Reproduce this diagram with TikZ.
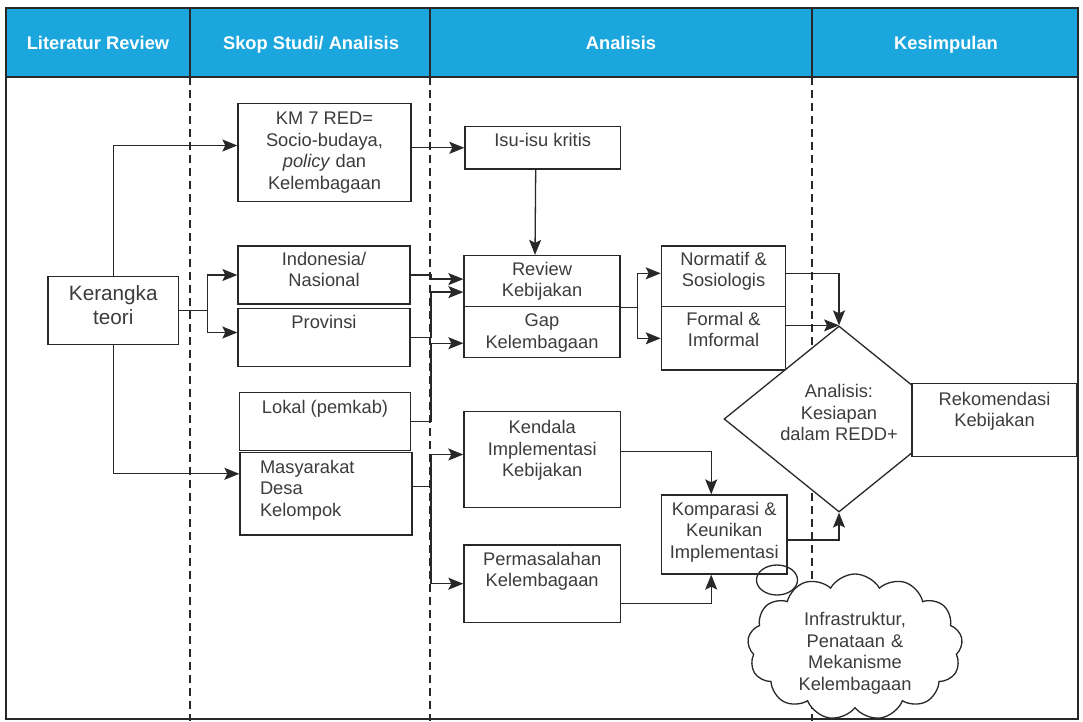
\documentclass[tikz,border=0pt]{standalone}
\usepackage{fontspec}
\setmainfont{Liberation Sans}
\usetikzlibrary{arrows.meta,shapes.geometric,shapes.symbols}

\definecolor{headblue}{RGB}{27,166,222}
\definecolor{linegray}{RGB}{40,40,40}
\definecolor{textgray}{RGB}{60,60,60}

\begin{document}
\begin{tikzpicture}[x=1pt,y=-1pt,
    box/.style={rectangle,draw=linegray,fill=white,line width=1.3pt,
        inner sep=0pt,align=center,text=textgray,
        font=\fontsize{18.3}{21.5}\selectfont},
    tshift/.style={text height=13pt,text depth=#1},
    tlast/.style={text height=#1,text depth=0pt},
    head/.style={text=white,text height=13pt,text depth=0pt,
        font=\fontsize{18.3}{22}\selectfont\bfseries},
    divider/.style={draw=linegray,line width=2pt,dash pattern=on 8pt off 5pt},
    conn/.style={draw=linegray,line width=1.3pt},
    arr/.style={conn,-{Stealth[length=15pt,width=12pt,inset=3pt]}}
]
\useasboundingbox (0,0) rectangle (1083,721);

% lanes
\foreach \lx in {190,430,812}
    \draw[divider] (\lx,77) -- (\lx,721);
\draw[draw=linegray,line width=1.5pt] (6,8) rectangle (1078,719);
\draw[draw=linegray,line width=1.5pt,fill=headblue] (6,8) rectangle (1078,77);
\foreach \lx in {190,430,812}
    \draw[draw=linegray,line width=1.5pt] (\lx,8) -- (\lx,77);
\node[head] (hlit) at (98,43) {Literatur Review};
\node[head] (hskop) at (311,43) {Skop Studi/ Analisis};
\node[head] (hanal) at (621,43) {Analisis};
\node[head] (hkes) at (946,43) {Kesimpulan};

% boxes
\node[box,font=\fontsize{20.7}{24}\selectfont,tlast=27.2pt,
    minimum width=130.6pt,minimum height=67.6pt] (kt) at (113.3,310.5) {Kerangka\\teori};
\node[box,tlast=73.4pt,minimum width=173pt,minimum height=98.4pt] (km) at (324.5,152.5)
    {KM 7 RED=\\Socio-budaya,\\\textit{policy} dan\\Kelembagaan};
\node[box,tlast=23pt,minimum width=172pt,minimum height=58pt] (ind) at (324,275) {Indonesia/\\Nasional};
\node[box,tshift=31.6pt,minimum width=172pt,minimum height=58.4pt] (prov) at (324,337.5) {Provinsi};
\node[box,tshift=30pt,minimum width=171pt,minimum height=58pt] (lok) at (325,421.7) {Lokal (pemkab)};
\node[box,tshift=54.2pt,align=left,text width=132pt,minimum width=172pt,minimum height=82.3pt]
    (my) at (326,493.8) {Masyarakat\\Desa\\Kelompok};

\node[box,tshift=15.6pt,minimum width=155.5pt,minimum height=42.3pt] (isu) at (542.7,147.8) {Isu-isu kritis};
\node[box,tlast=30.8pt,minimum width=156pt,minimum height=51.2pt] (rev) at (542,281.1) {Review\\Kebijakan};
\node[box,tlast=32pt,minimum width=156pt,minimum height=51pt] (gap) at (542,332.2) {Gap\\Kelembagaan};
\node[box,tlast=34pt,minimum width=156.5pt,minimum height=95.6pt] (ken) at (542.2,459.5)
    {Kendala\\Implementasi\\Kebijakan};
\node[box,tlast=5.6pt,minimum width=156.5pt,minimum height=77.3pt] (per) at (542.2,583.7)
    {Permasalahan\\Kelembagaan};
\node[box,tlast=20.4pt,minimum width=124.3pt,minimum height=60.7pt] (norm) at (723.5,276.3) {Normatif \&\\Sosiologis};
\node[box,tlast=16.4pt,minimum width=124.3pt,minimum height=63.3pt] (form) at (723.5,338.3) {Formal \&\\Imformal};
\node[box,tlast=47.4pt,minimum width=125.6pt,minimum height=79pt] (kom) at (724.2,534.5)
    {Komparasi \&\\Keunikan\\Implementasi};

\node[box,diamond,aspect=1.237,tlast=43pt,minimum width=230pt,minimum height=186pt] (dia) at (839,419)
    {Analisis:\\Kesiapan\\dalam REDD+};
\node[box,tlast=13pt,minimum width=165pt,minimum height=73.4pt] (rek) at (994.5,420) {Rekomendasi\\Kebijakan};

\node[box,cloud,cloud puffs=13,cloud puff arc=120,aspect=1.55,text width=130pt,tshift=56pt,
    minimum width=215pt,minimum height=146pt] (cld) at (855,647)
    {Infrastruktur,\\Penataan \&\\Mekanisme\\Kelembagaan};
\node[conn,ellipse,inner sep=0pt,minimum width=41pt,minimum height=30pt] (bub) at (777,580) {};

% connectors
\coordinate (bus) at (431,0);
\draw[arr] (kt.north) |- ([yshift=7pt]km.west);
\draw[arr] (kt.south) |- ([yshift=20pt]my.west);
\draw[conn] (kt.east) -- ++(28,0) coordinate (split);
\draw[arr] (split) |- (ind.west);
\draw[arr] (split) |- ([yshift=5pt]prov.west);

\draw[arr] (isu.west -| km.east) -- (isu.west);
\draw[arr] ([xshift=-7pt]isu.south) -- ([xshift=-7pt]rev.north);
\draw[arr] (ind.east) -- (ind.east -| bus) |- ([yshift=2pt]rev.west);
\draw[arr] (prov.east) -- (prov.east -| bus) |- ([yshift=-11pt]rev.west);
\draw[arr] (lok.east) -- (lok.east -| bus) |- ([yshift=-11pt]gap.west);
\draw[conn] ([yshift=7pt]my.east) -- ([yshift=7pt]my.east -| bus) coordinate (fork);
\draw[arr] (fork) |- ([yshift=5pt]ken.west);
\draw[arr] (fork) |- (per.west);

\draw[conn] (rev.south east) -- ++(17,0) coordinate (split2);
\draw[arr] (split2) |- ([yshift=3pt]norm.west);
\draw[arr] (split2) |- (form.west);
\draw[arr] ([yshift=3pt]norm.east) -| (dia.north);
\draw[arr] (dia.north -| form.east) -- (dia.north);
\draw[arr] ([yshift=8pt]ken.east) -| ([xshift=-13pt]kom.north);
\draw[arr] ([yshift=-20pt]per.east) -| ([xshift=-13pt]kom.south);
\draw[arr] ([yshift=-5.5pt]kom.east) -| (dia.south);
\end{tikzpicture}
\end{document}
